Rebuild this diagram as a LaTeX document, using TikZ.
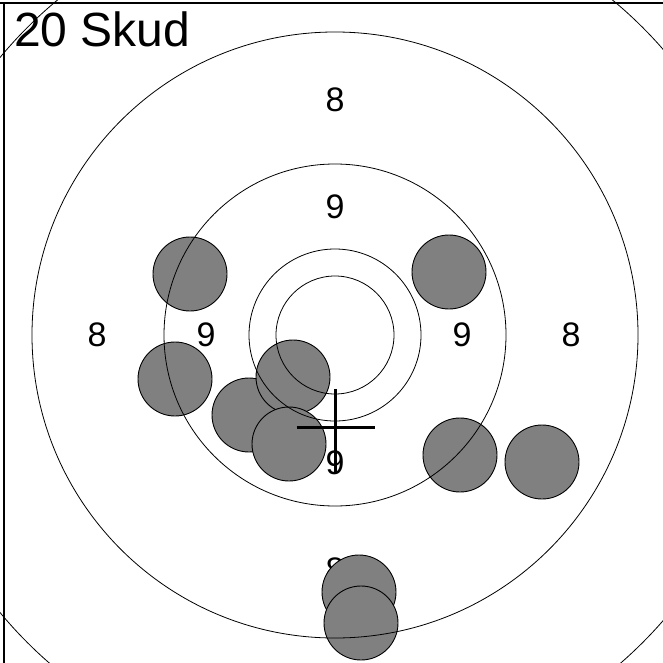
\documentclass[tikz,border=0pt]{standalone}
\usepackage{fontspec}
\setmainfont{Liberation Sans}
\usepackage{xcolor}
\usepackage{tikz}
\definecolor{shotgrey}{RGB}{128,128,128}

\begin{document}
\begin{tikzpicture}[x=1pt, y=-1pt,
    ring/.style={draw=black, line width=0.8pt},
    shot/.style={circle, draw=black, fill=shotgrey, line width=0.9pt, minimum size=74pt, inner sep=0pt},
    lbl/.style={font=\fontsize{34}{34}\selectfont},
    hair/.style={line width=3pt}]
    \useasboundingbox (0,0) rectangle (663,663);
    \clip (0,0) rectangle (663,663);
    \coordinate (c) at (335,335);
    % ring labels
    \foreach \x/\y/\v [count=\i] in {335/100/8, 335/207/9, 97/335/8, 206/335/9,
        462/335/9, 571/335/8, 335/463/9, 335/570/8}
      \node[lbl] (lab\i) at (\x,\y) {\v};
    % shots
    \foreach \x/\y [count=\i] in {190/274, 449/272, 175/379, 249/415, 293/377,
        289/444, 460/455, 542/462, 359/592, 361/623}
      \node[shot] (shot\i) at (\x,\y) {};
    % rings
    \foreach \r in {59, 86, 171, 303, 435}
      \draw[ring] (c) circle[radius=\r];
    % frame
    \draw[line width=1.6pt] (0,3) -- (663,3);
    \draw[line width=1.6pt] (4,3) -- (4,663);
    % mean point
    \coordinate (m) at (335.5,427);
    \draw[hair] ([xshift=-39pt]m) -- ([xshift=39pt]m);
    \draw[hair] ([yshift=38pt]m) -- ([yshift=-45pt]m);
    % title
    \node[font=\fontsize{48}{48}\selectfont, anchor=base west, inner sep=0pt] (title) at (14,47) {20 Skud};
\end{tikzpicture}
\end{document}
